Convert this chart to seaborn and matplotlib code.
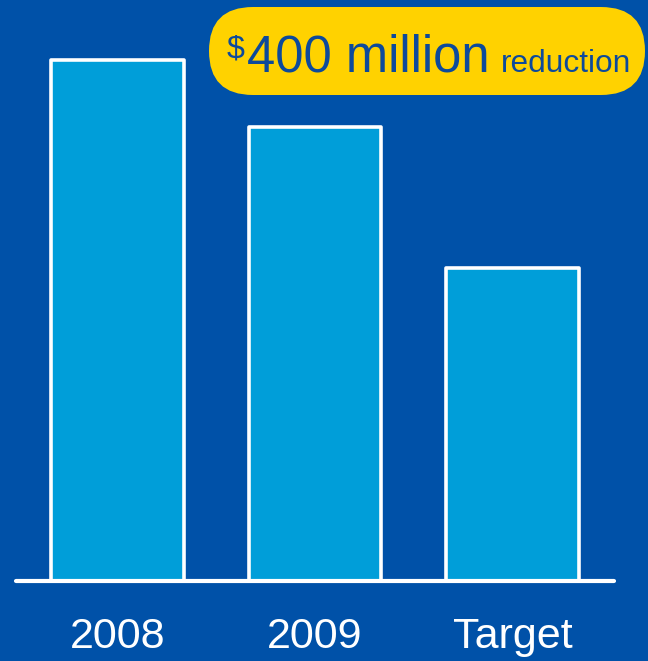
import matplotlib
matplotlib.use("Agg")
import matplotlib.pyplot as plt
import matplotlib.transforms as mtransforms
from matplotlib.patches import FancyBboxPatch
import seaborn as sns
import pandas as pd

categories = ["2008", "2009", "Target"]
values = [1000, 872, 601]
callout_amount = "400 million"
callout_currency = "$"
callout_word = "reduction"

BG = "#0051A8"
BAR = "#009ED9"
YELLOW = "#FFD200"
NAVY = "#0D4A9B"

sns.set_theme(style="white")
plt.rcParams['font.family'] = ['Liberation Sans', 'DejaVu Sans']

DPI = 100
W, H = 648, 661
fig = plt.figure(figsize=(W / DPI, H / DPI), dpi=DPI, facecolor=BG)
ax = fig.add_axes([16 / W, (H - 581) / H, 598 / W, 581 / H])
ax.set_facecolor(BG)

df = pd.DataFrame({"cat": categories, "val": values})
sns.barplot(data=df, x="cat", y="val", color=BAR, saturation=1, width=0.673,
            edgecolor="white", linewidth=2.6, ax=ax)
for p in ax.patches:
    p.set_joinstyle("round")

ax.set_xlim(-0.514, 2.514)
ax.set_ylim(0, 1115)
ax.set_xlabel("")
ax.set_ylabel("")
ax.set_yticks([])
for s in ["top", "left", "right"]:
    ax.spines[s].set_visible(False)
ax.spines["bottom"].set_color("white")
ax.spines["bottom"].set_linewidth(3)
ax.spines["bottom"].set_capstyle("round")
ax.tick_params(axis="x", length=0, pad=26, labelsize=31, labelcolor="white")

# callout box in pixel coordinates
ident = mtransforms.IdentityTransform()
box = FancyBboxPatch((209, H - 95), 436, 88,
                     boxstyle="round,pad=0,rounding_size=44",
                     transform=ident, facecolor=YELLOW, edgecolor="none",
                     figure=fig)
fig.patches.append(box)
fig.text(227, H - 57, callout_currency, transform=ident, fontsize=23,
         color=NAVY, ha="left", va="baseline")
fig.text(247, H - 72, callout_amount, transform=ident, fontsize=36.5,
         color=NAVY, ha="left", va="baseline")
fig.text(501, H - 72, callout_word, transform=ident, fontsize=22.8,
         color=NAVY, ha="left", va="baseline")

fig.savefig("out.png", dpi=DPI, facecolor=BG)
